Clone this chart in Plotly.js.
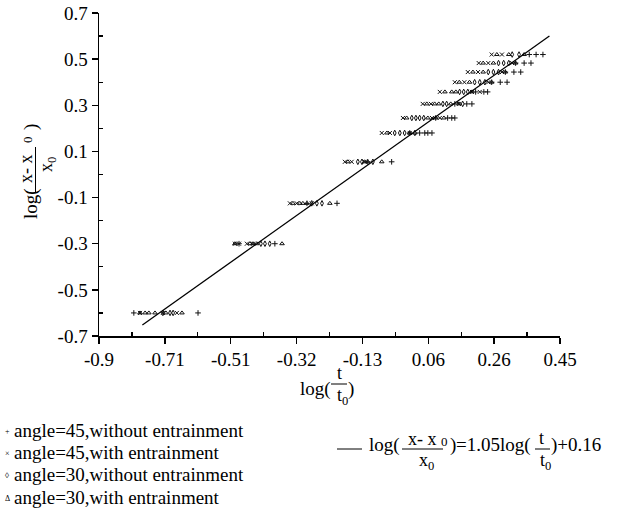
<!DOCTYPE html>
<html>
<head>
<meta charset="utf-8">
<script src="https://cdn.plot.ly/plotly-3.0.1.min.js"></script>
<style>html,body{margin:0;padding:0;background:#fff;}#chart{width:631px;height:523px;}</style>
</head>
<body>
<div id="chart"></div>
<script>
// ---------------- data ----------------
const seriesNames = [
  "angle=45,without entrainment",
  "angle=45,with entrainment",
  "angle=30,without entrainment",
  "angle=30,with entrainment"
];
const legendGlyphs = ["+", "×", "◊", "Δ"];

// angle=45, without entrainment (+)
const plusX = [-0.798,-0.61, -0.490,-0.385, -0.291,-0.203, -0.113,-0.043, 0.010,0.039,0.054,0.063,0.075,
  0.086,0.121,0.133,0.142, 0.142,0.177,0.192, 0.203,0.227,0.238, 0.25,0.275,0.295, 0.29,0.315,0.335, 0.32,0.345,0.365, 0.36,0.38,0.40];
const plusY = [-0.60,-0.60, -0.30,-0.30, -0.125,-0.125, 0.055,0.055, 0.18,0.18,0.18,0.18,0.18,
  0.245,0.245,0.245,0.245, 0.306,0.306,0.306, 0.358,0.358,0.358, 0.40,0.40,0.40, 0.444,0.444,0.444, 0.483,0.483,0.483, 0.52,0.52,0.52];
// angle=45, with entrainment (×)
const crossX = [-0.780,-0.713,-0.672, -0.502,-0.490,-0.467,-0.449, -0.341,-0.321,-0.277, -0.180,-0.160,-0.122,
  -0.072,-0.048,0.010, -0.010,0.075,0.098, 0.048,0.072,0.154, 0.098,0.192,0.215, 0.142,0.17,0.24, 0.18,0.21,0.28, 0.212,0.24,0.31, 0.25,0.28];
const crossY = [-0.60,-0.60,-0.60, -0.30,-0.30,-0.30,-0.30, -0.125,-0.125,-0.125, 0.055,0.055,0.055,
  0.18,0.18,0.18, 0.245,0.245,0.245, 0.306,0.306,0.306, 0.358,0.358,0.358, 0.40,0.40,0.40, 0.444,0.444,0.444, 0.483,0.483,0.483, 0.52,0.52];
// angle=30, without entrainment (◊)
const diamX = [-0.713,-0.692,-0.683, -0.426,-0.414,-0.400, -0.277,-0.262,-0.247, -0.142,-0.130,-0.098,
  -0.034,-0.019,-0.005,0.025, 0.016,0.028,0.039,0.051, 0.107,0.118,0.165, 0.156,0.168,0.180, 0.20,0.215,0.23, 0.24,0.255,0.27, 0.27,0.285,0.30, 0.31,0.33];
const diamY = [-0.60,-0.60,-0.60, -0.30,-0.30,-0.30, -0.125,-0.125,-0.125, 0.055,0.055,0.055,
  0.18,0.18,0.18,0.18, 0.245,0.245,0.245,0.245, 0.306,0.306,0.306, 0.358,0.358,0.358, 0.40,0.40,0.40, 0.444,0.444,0.444, 0.483,0.483,0.483, 0.52,0.52];
// angle=30, with entrainment (Δ)
const triX = [-0.780,-0.765,-0.754,-0.736,-0.704,-0.657, -0.502,-0.458,-0.449,-0.438,-0.364, -0.332,-0.312,-0.303,-0.291,-0.224,
  -0.171,-0.122,-0.113,-0.072, -0.057,0.010,0.025, 0.001,0.063,0.086,0.110, 0.060,0.083,0.095,0.130,0.154,
  0.113,0.133,0.145,0.192, 0.155,0.185,0.25, 0.195,0.225,0.29, 0.225,0.255,0.32, 0.265,0.30,0.345];
const triY = [-0.60,-0.60,-0.60,-0.60,-0.60,-0.60, -0.30,-0.30,-0.30,-0.30,-0.30, -0.125,-0.125,-0.125,-0.125,-0.125,
  0.055,0.055,0.055,0.055, 0.18,0.18,0.18, 0.245,0.245,0.245,0.245, 0.306,0.306,0.306,0.306,0.306,
  0.358,0.358,0.358,0.358, 0.40,0.40,0.40, 0.444,0.444,0.444, 0.483,0.483,0.483, 0.52,0.52,0.52];

// fitted line log((x-x0)/x0) = 1.05 log(t/t0) + 0.16
const fitX = [-0.773, 0.419];
const fitY = [-0.652, 0.600];

// axis ticks
const xTickVals = [-0.9, -0.7071, -0.5143, -0.3214, -0.1286, 0.0643, 0.2571, 0.45];
const xTickText = ["-0.9", "-0.71", "-0.51", "-0.32", "-0.13", "0.06", "0.26", "0.45"];
const xMinorVals = [-0.8036, -0.6107, -0.4179, -0.225, -0.0321, 0.1607, 0.3536];
const yTickVals = [-0.7, -0.5, -0.3, -0.1, 0.1, 0.3, 0.5, 0.7];
const yTickText = ["-0.7", "-0.5", "-0.3", "-0.1", "0.1", "0.3", "0.5", "0.7"];
const yMinorVals = [-0.6, -0.4, -0.2, 0, 0.2, 0.4, 0.6];

// ---------------- layout helpers ----------------
const FONT = "Liberation Serif, Times New Roman, serif";
const L = 99, R = 560, T = 13, B = 336;
const px2x = px => (px - L) / (R - L);
const py2y = py => (B - py) / (B - T);
function txt(text, px, py, size, xa, ang) {
  return {xref: "paper", yref: "paper", x: px2x(px), y: py2y(py), text: text, showarrow: false,
    xanchor: xa || "center", yanchor: "middle", textangle: ang || 0, borderpad: 0,
    font: {family: FONT, size: size, color: "#000"}};
}
function bar(x0, y0, x1, y1) {
  return {type: "line", xref: "paper", yref: "paper", x0: px2x(x0), y0: py2y(y0), x1: px2x(x1), y1: py2y(y1),
    line: {color: "#000", width: 1}};
}

const mk = (sym) => ({symbol: sym, size: 4, color: "#111", line: {color: "#111", width: 1}});
const traces = [
  {x: plusX, y: plusY, mode: "markers", type: "scatter", name: seriesNames[0], marker: mk("cross-thin-open")},
  {x: crossX, y: crossY, mode: "markers", type: "scatter", name: seriesNames[1], marker: mk("x-thin-open")},
  {x: diamX, y: diamY, mode: "markers", type: "scatter", name: seriesNames[2], marker: mk("diamond-tall-open")},
  {x: triX, y: triY, mode: "markers", type: "scatter", name: seriesNames[3], marker: mk("triangle-up-open")},
  {x: fitX, y: fitY, mode: "lines", type: "scatter", name: "fit", line: {color: "#000", width: 1.3}}
];

const annotations = [];
const shapes = [];
// legend (left block)
const legRows = [430, 452, 474, 497];
seriesNames.forEach((n, i) => {
  annotations.push(txt(legendGlyphs[i], 7, legRows[i] + 1, 8, "center"));
  annotations.push(txt(n, 13, legRows[i], 19, "left"));
});
// legend (fit line)
shapes.push(bar(337, 449, 362, 449));
annotations.push(txt("log(", 368, 445, 19, "left"));
annotations.push(txt("x- x", 422, 439, 18, "center"));
shapes.push(bar(402, 449, 443, 449));
annotations.push(txt("x<sub>0</sub>", 426, 461, 18, "center"));
annotations.push(txt("0", 444, 441, 13, "center"));
annotations.push(txt(")", 449, 445, 19, "left"));
annotations.push(txt("=1.05log(", 455, 445, 19, "left"));
annotations.push(txt("t", 541, 438, 18, "center"));
shapes.push(bar(535, 449, 550, 449));
annotations.push(txt("t<sub>0</sub>", 545, 461, 18, "center"));
annotations.push(txt(")+0.16", 550, 445, 19, "left"));
// x-axis title
annotations.push(txt("log(", 332, 389, 19, "right"));
annotations.push(txt("t", 339, 373, 18, "center"));
shapes.push(bar(331, 384, 347, 384));
annotations.push(txt("t<sub>0</sub>", 342, 396, 18, "center"));
annotations.push(txt(")", 347, 389, 19, "left"));
// y-axis title (rotated)
annotations.push(txt("log(", 31, 204, 19, "center", -90));
annotations.push(txt("x- x", 26, 169, 18, "center", -90));
shapes.push(bar(35.5, 147, 35.5, 192));
annotations.push(txt("x<sub>0</sub>", 47, 165, 18, "center", -90));
annotations.push(txt("0", 27, 140, 13, "center", -90));
annotations.push(txt(")", 31, 127, 19, "center", -90));

const axisCommon = {
  showgrid: false, zeroline: false, showline: true, linecolor: "#000", linewidth: 1.5,
  ticks: "outside", ticklen: 6, tickwidth: 1.3, tickcolor: "#000",
  tickfont: {family: FONT, size: 19, color: "#000"}, mirror: false
};
const layout = {
  width: 631, height: 523,
  margin: {l: L, r: 631 - R, t: T, b: 523 - B, pad: 0},
  paper_bgcolor: "#fff", plot_bgcolor: "#fff",
  showlegend: false,
  xaxis: Object.assign({}, axisCommon, {
    range: [-0.9, 0.45], tickmode: "array", tickvals: xTickVals, ticktext: xTickText,
    minor: {ticks: "inside", tickmode: "array", tickvals: xMinorVals, ticklen: 4, tickwidth: 1.2, tickcolor: "#000"}
  }),
  yaxis: Object.assign({}, axisCommon, {
    range: [-0.7, 0.7], tickmode: "array", tickvals: yTickVals, ticktext: yTickText,
    minor: {ticks: "inside", tickmode: "array", tickvals: yMinorVals, ticklen: 4, tickwidth: 1.2, tickcolor: "#000"}
  }),
  annotations: annotations,
  shapes: shapes
};
Plotly.newPlot("chart", traces, layout, {staticPlot: true, displayModeBar: false});
</script>
</body>
</html>
